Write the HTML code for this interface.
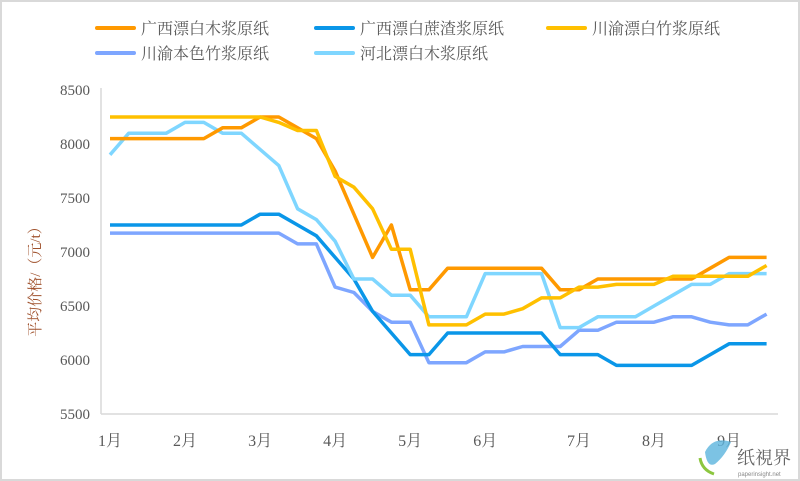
<!DOCTYPE html>
<html><head><meta charset="utf-8"><style>
html,body{margin:0;padding:0;background:#fff;}
svg{display:block;font-family:"Liberation Serif","Noto Serif CJK SC",serif;}
</style></head><body>
<svg id="chart" width="800" height="481" viewBox="0 0 800 481" xmlns="http://www.w3.org/2000/svg">
<rect x="1" y="1" width="798" height="479" fill="#fff" stroke="#d9d9d9" stroke-width="2"/>
<g id="legend"></g>
<g id="axes"></g>
<g id="series"></g>
<text transform="translate(40,278) rotate(-90)" text-anchor="middle" font-size="15" fill="#a0522d" font-family="'Liberation Serif','Noto Serif CJK SC',serif">平均价格/（元/t）</text>
<g>
<path d="M705 452 q8 -16 26 -10 q-6 14 -16 22 q-8 4 -10 -12z" fill="#5bb4dd" opacity="0.8"/>
<path d="M700 458 q2 12 14 16" stroke="#8cc63f" stroke-width="3" fill="none"/>
<text x="737" y="464" font-size="18" fill="#666" font-family="'Noto Serif CJK SC',serif">纸視界</text>
<text x="738" y="476" font-size="6" fill="#888" font-family="'Liberation Sans',sans-serif">paperinsight.net</text>
</g>
</svg>
<script>
const categories = ["1月","","","","2月","","","","3月","","","","4月","","","","5月","","","","6月","","","","","7月","","","","8月","","","","9月","",""];
const seriesNames = ["广西漂白木浆原纸","广西漂白蔗渣浆原纸","川渝漂白竹浆原纸","川渝本色竹浆原纸","河北漂白木浆原纸"];
const gxMuJiang = [8050,8050,8050,8050,8050,8050,8150,8150,8250,8250,8150,8050,7750,7350,6950,7250,6650,6650,6850,6850,6850,6850,6850,6850,6650,6650,6750,6750,6750,6750,6750,6750,6850,6950,6950,6950];
const gxZhaJiang = [7250,7250,7250,7250,7250,7250,7250,7250,7350,7350,7250,7150,6950,6750,6450,6250,6050,6050,6250,6250,6250,6250,6250,6250,6050,6050,6050,5950,5950,5950,5950,5950,6050,6150,6150,6150];
const cyPiaoZhu = [8250,8250,8250,8250,8250,8250,8250,8250,8250,8200,8125,8125,7700,7600,7400,7025,7025,6325,6325,6325,6425,6425,6475,6575,6575,6675,6675,6700,6700,6700,6775,6775,6775,6775,6775,6875];
const cyBenSeZhu = [7175,7175,7175,7175,7175,7175,7175,7175,7175,7175,7075,7075,6675,6625,6450,6350,6350,5975,5975,5975,6075,6075,6125,6125,6125,6275,6275,6350,6350,6350,6400,6400,6350,6325,6325,6425];
const hbMuJiang = [7900,8100,8100,8100,8200,8200,8100,8100,7950,7800,7400,7300,7100,6750,6750,6600,6600,6400,6400,6400,6800,6800,6800,6800,6300,6300,6400,6400,6400,6500,6600,6700,6700,6800,6800,6800];
const yTicks = [5500,6000,6500,7000,7500,8000,8500];
const colors = ["#ff9900","#0a96e8","#ffc000","#7ea6ff","#7fd6ff"];

const NS="http://www.w3.org/2000/svg";
const x0=110, dx=18.76, yTop=90, yBot=414, vMin=5500, vMax=8500;
function xs(i){return x0+i*dx;}
function ys(v){return yBot-(v-vMin)/(vMax-vMin)*(yBot-yTop);}
function mk(tag,parent){const e=document.createElementNS(NS,tag);parent.appendChild(e);return e;}

const axes=document.getElementById('axes');
let yl=mk('line',axes);


yl.setAttribute('x1',101);yl.setAttribute('x2',101);yl.setAttribute('y1',yTop-2);yl.setAttribute('y2',yBot);
yl.setAttribute('stroke','#d9d9d9');yl.setAttribute('stroke-width',1.5);
let xl=mk('line',axes);


xl.setAttribute('x1',101);xl.setAttribute('x2',778);xl.setAttribute('y1',yBot);xl.setAttribute('y2',yBot);
xl.setAttribute('stroke','#d9d9d9');xl.setAttribute('stroke-width',1.5);
yTicks.forEach(v=>{
  const t=mk('text',axes);
  
  
  t.setAttribute('x',90);t.setAttribute('y',ys(v)+5);t.setAttribute('text-anchor','end');
  t.setAttribute('font-size',15);t.setAttribute('fill','#595959');t.textContent=v;
});
categories.forEach((c,i)=>{
  if(!c)return;
  const t=mk('text',axes);
  
  
  t.setAttribute('x',xs(i));t.setAttribute('y',446);t.setAttribute('text-anchor','middle');
  t.setAttribute('font-size',16);t.setAttribute('fill','#595959');t.textContent=c;
});

const allSeries=[gxMuJiang,gxZhaJiang,cyPiaoZhu,cyBenSeZhu,hbMuJiang];
const order=[3,1,4,0,2];
const sg=document.getElementById('series');
order.forEach(k=>{
  const p=mk('polyline',sg);
  
  
  p.setAttribute('points',allSeries[k].map((v,i)=>xs(i).toFixed(1)+','+ys(v).toFixed(1)).join(' '));
  p.setAttribute('fill','none');p.setAttribute('stroke',colors[k]);p.setAttribute('stroke-width',3.5);
  p.setAttribute('stroke-linejoin','round');
});

const lg=document.getElementById('legend');
const lpos=[[97,28],[316,28],[548,28],[97,53],[316,53]];
seriesNames.forEach((n,k)=>{
  const g=mk('g',lg);
  
  
  const [lx,ly]=lpos[k];
  const l=mk('line',g);
  l.setAttribute('x1',lx);l.setAttribute('x2',lx+37);l.setAttribute('y1',ly);l.setAttribute('y2',ly);
  l.setAttribute('stroke',colors[k]);l.setAttribute('stroke-width',4);l.setAttribute('stroke-linecap','round');
  const t=mk('text',g);
  t.setAttribute('x',lx+44);t.setAttribute('y',ly+6);t.setAttribute('font-size',16);t.setAttribute('fill','#595959');
  t.setAttribute('font-family',"'Noto Serif CJK SC',serif");
  t.textContent=n;
});
</script>
</body></html>
